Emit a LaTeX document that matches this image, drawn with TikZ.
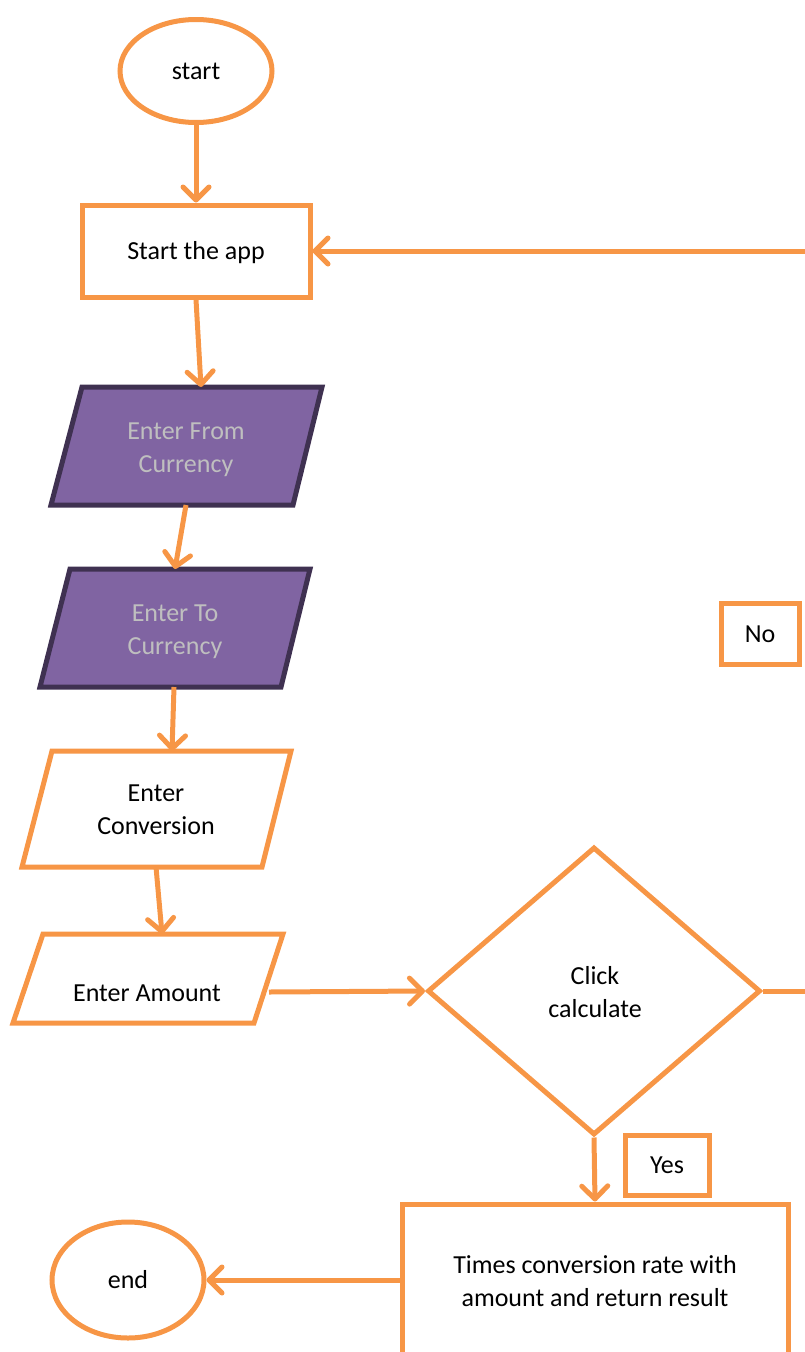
\documentclass[tikz,border=0pt]{standalone}
\usepackage{fontspec}
\setmainfont{Carlito}
\usetikzlibrary{arrows.meta,shapes.geometric}
\definecolor{flowOrange}{HTML}{F79646}
\definecolor{inputFill}{HTML}{8064A2}
\definecolor{inputEdge}{HTML}{3F3151}
\definecolor{inputText}{HTML}{BFBFBF}
\begin{document}
\begin{tikzpicture}[x=1pt,y=-1pt,
  every node/.style={font=\fontsize{26}{33}\selectfont, align=center, inner sep=0pt},
  oneline/.style={text height=17pt, text depth=0pt},
  link/.style={draw=flowOrange, line width=5pt, -{Straight Barb[length=13pt,width=26pt,round]}},
  terminal/.style={ellipse, draw=flowOrange, line width=5pt, fill=white, oneline},
  process/.style={rectangle, draw=flowOrange, line width=5pt, fill=white},
  decision/.style={diamond, draw=flowOrange, line width=5pt, fill=white, minimum width=333pt, minimum height=288pt},
  darkinput/.style={draw=inputEdge, fill=inputFill, line width=5pt, line join=miter},
  lightinput/.style={draw=flowOrange, fill=white, line width=5pt, line join=miter},
  tag/.style={rectangle, draw=flowOrange, line width=5pt, fill=white, oneline}]
\useasboundingbox (0,0) rectangle (805,1352);
\clip (0,0) rectangle (805,1352);

% terminals
\node[terminal, minimum width=152pt, minimum height=103pt] (start) at (196,71) {start};
\node[terminal, minimum width=152pt, minimum height=116pt] (finish) at (128,1280) {end};

% first process step
\node[process, oneline, minimum width=228pt, minimum height=92pt] (app) at (196,251) {Start the app};

% input steps (parallelograms)
\draw[darkinput] (82,387) -- (322,387) -- (293,505) -- (51,505) -- cycle;
\node[text=inputText] (fromcur) at (186,450) {Enter From\\Currency};
\coordinate (fromTop) at (201,387);
\coordinate (fromBot) at (186,505);

\draw[darkinput] (70,569) -- (310,569) -- (281,687) -- (40,687) -- cycle;
\node[text=inputText] (tocur) at (175,632) {Enter To\\Currency};
\coordinate (toTop) at (175,569);
\coordinate (toBot) at (174,687);

\draw[lightinput] (52,751) -- (291,751) -- (262,867) -- (22,867) -- cycle;
\node (conv) at (156,810) {Enter\\Conversion};
\coordinate (convTop) at (172,751);
\coordinate (convBot) at (156,867);

\draw[lightinput] (43,934) -- (283,934) -- (254,1023) -- (13,1023) -- cycle;
\node[oneline] (amount) at (147,993) {Enter Amount};
\coordinate (amountTop) at (162,934);
\coordinate (amountRight) at (269,992);

% decision
\node[decision] (decide) at (594,991) {};
\node (decidetext) at (595,992) {Click\\calculate};

% result step (runs past the lower edge)
\node[process, minimum width=386pt, minimum height=216pt] (calc) at (595,1312) {};
\node (calctext) at (595,1281) {Times conversion rate with\\amount and return result};

% branch labels
\node[tag, minimum width=78pt, minimum height=61pt] (no) at (760,634) {No};
\node[tag, minimum width=84pt, minimum height=60pt] (yes) at (667,1165) {Yes};

% connectors
\draw[link] (start) -- (app);
\draw[link] (app.south) -- (fromTop);
\draw[link] (fromBot) -- (toTop);
\draw[link] (toBot) -- (convTop);
\draw[link] (convBot) -- (amountTop);
\draw[link] (amountRight) -- (decide.west);
\draw[link] (decide.south) -- (calc.north);
\draw[link] (calc.west |- finish.east) -- (finish.east);
\draw[link] (decide.east) -- ++(70,0) |- (app.east);
\end{tikzpicture}
\end{document}
